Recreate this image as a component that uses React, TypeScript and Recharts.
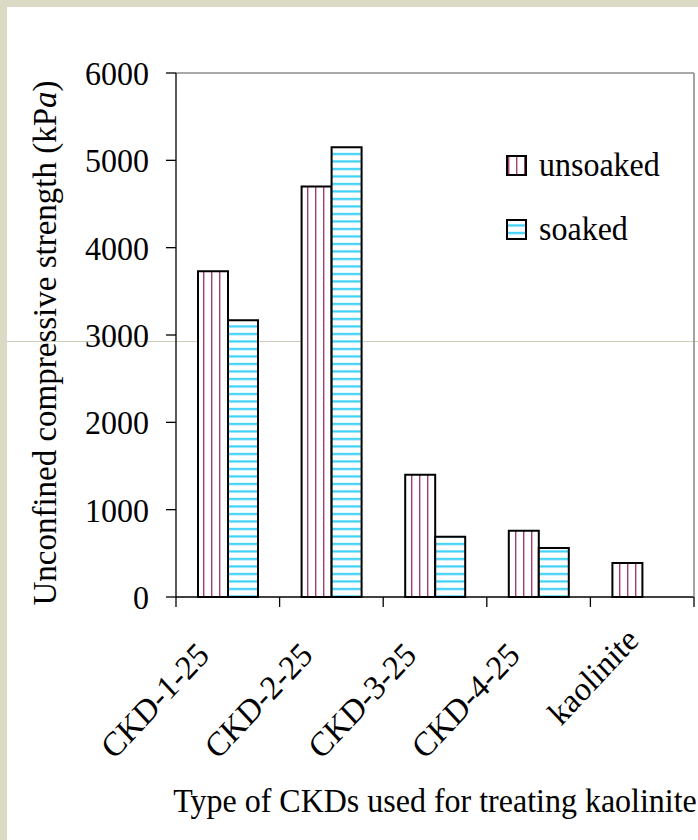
import { BarChart, Bar, XAxis, YAxis, Legend, Label } from "recharts";

const categories = ["CKD-1-25", "CKD-2-25", "CKD-3-25", "CKD-4-25", "kaolinite"];
const unsoaked = [3730, 4700, 1400, 760, 390];
const soaked: (number | null)[] = [3170, 5150, 690, 560, null];
const seriesOrder = ["unsoaked", "soaked"];
const yTicks = [0, 1000, 2000, 3000, 4000, 5000, 6000];
const frameTicks = [0, 1, 2, 3, 4, 5];

const data = categories.map((name, i) => ({
  name,
  unsoaked: unsoaked[i],
  soaked: soaked[i],
}));

const FONT = '"Liberation Serif", "Times New Roman", serif';
const FRAME = "#8c8c8c";
const TALL = 1.07; // glyphs are drawn a little taller than wide

const patternFor: Record<string, string> = {
  unsoaked: "url(#unsoaked-stripes)",
  soaked: "url(#soaked-stripes)",
};

const measureCtx =
  typeof document !== "undefined"
    ? document.createElement("canvas").getContext("2d")
    : null;

function textWidth(s: string) {
  if (!measureCtx) return 0;
  measureCtx.font = `32px ${FONT}`;
  return measureCtx.measureText(s).width;
}

const widestLabel = Math.max(...categories.map(textWidth));

// Category label rotated -45deg, plus tick marks on the band edges
function CategoryTick({ x, y, payload, index }: any) {
  const half = payload.offset ?? 0;
  const slide = (widestLabel - textWidth(String(payload.value))) * 0.85 * Math.SQRT1_2;
  const ax = x - 17 + slide;
  const ay = y + 60 - slide;
  const last = index === categories.length - 1;
  return (
    <g>
      <line x1={x - half} x2={x - half} y1={y} y2={y + 10} stroke="#000" strokeWidth={1.3} />
      {last && (
        <line x1={x + half} x2={x + half} y1={y} y2={y + 10} stroke="#000" strokeWidth={1.3} />
      )}
      <text
        transform={`translate(${ax}, ${ay}) scale(1, ${TALL}) rotate(-45)`}
        textAnchor="end"
        fontFamily={FONT}
        fontSize={32}
        fill="#000"
      >
        {payload.value}
      </text>
    </g>
  );
}

function ValueTick({ x, y, payload }: any) {
  return (
    <text
      transform={`translate(${x}, ${y + 12}) scale(1, ${TALL})`}
      textAnchor="end"
      fontFamily={FONT}
      fontSize={32}
      fill="#000"
    >
      {payload.value}
    </text>
  );
}

function YTitle({ viewBox }: any) {
  const cx = viewBox.x + 56;
  const cy = viewBox.y + viewBox.height / 2 + 8;
  return (
    <text
      x={cx}
      y={cy}
      transform={`rotate(-90, ${cx}, ${cy})`}
      textAnchor="middle"
      fontFamily={FONT}
      fontSize={33}
      fill="#000"
    >
      Unconfined compressive strength (kP<tspan fontStyle="italic">a</tspan>)
    </text>
  );
}

function XTitle({ viewBox }: any) {
  return (
    <text
      transform={`translate(${viewBox.x + viewBox.width / 2}, 812) scale(1, ${TALL})`}
      textAnchor="middle"
      fontFamily={FONT}
      fontSize={32}
      fill="#000"
    >
      Type of CKDs used for treating kaolinite
    </text>
  );
}

function LegendBox({ payload }: any) {
  const items = [...(payload ?? [])].sort(
    (a: any, b: any) =>
      seriesOrder.indexOf(a.dataKey) - seriesOrder.indexOf(b.dataKey)
  );
  return (
    <svg width={180} height={110} style={{ overflow: "visible" }}>
      {items.map((p: any, i: number) => (
        <g key={p.value} transform={`translate(0, ${i * 64})`}>
          <rect
            x={2}
            y={6}
            width={19}
            height={19}
            fill={patternFor[p.dataKey]}
            stroke="#000"
            strokeWidth={2}
          />
          <text
            transform={`translate(34, 26) scale(1, ${TALL})`}
            fontFamily={FONT}
            fontSize={32}
            fill="#000"
          >
            {p.value}
          </text>
        </g>
      ))}
    </svg>
  );
}

export default function App() {
  return (
    <div
      style={{
        position: "absolute",
        left: 0,
        top: 0,
        width: 698,
        height: 840,
        background: "#dbdac5",
        overflow: "hidden",
      }}
    >
      <div
        style={{
          position: "absolute",
          left: 7,
          top: 7,
          right: 0,
          bottom: 0,
          background: "#fff",
        }}
      />
      {/* slide rule line behind the chart */}
      <div
        style={{
          position: "absolute",
          left: 7,
          right: 0,
          top: 341,
          height: 1,
          background: "#cdcdbb",
        }}
      />
      <div style={{ position: "absolute", left: 0, top: 0 }}>
        <BarChart
          width={698}
          height={840}
          data={data}
          margin={{ top: 72, right: 3, left: 0, bottom: 0 }}
          barGap={0}
        >
          <defs>
            <pattern
              id="unsoaked-stripes"
              patternUnits="userSpaceOnUse"
              width={8}
              height={8}
            >
              <rect width={8} height={8} fill="#fff" />
              <rect x={3} width={1.2} height={8} fill="#a0426f" />
              <rect x={4.2} width={0.8} height={8} fill="#d7a3bd" />
            </pattern>
            <pattern
              id="soaked-stripes"
              patternUnits="userSpaceOnUse"
              width={7.5}
              height={7.5}
            >
              <rect width={7.5} height={7.5} fill="#fff" />
              <rect y={3} width={7.5} height={1.6} fill="#1ecbf7" />
              <rect y={4.6} width={7.5} height={0.9} fill="#9fe6fb" />
            </pattern>
          </defs>
          <XAxis
            dataKey="name"
            height={243}
            axisLine={{ stroke: "#000", strokeWidth: 1.3 }}
            tickLine={false}
            tickSize={0}
            tickMargin={0}
            interval={0}
            tick={<CategoryTick />}
          >
            <Label content={<XTitle />} />
          </XAxis>
          <XAxis
            xAxisId="top"
            orientation="top"
            type="number"
            domain={[0, 5]}
            ticks={frameTicks}
            allowDataOverflow
            height={1}
            tick={false}
            tickLine={false}
            axisLine={{ stroke: FRAME, strokeWidth: 1.6 }}
          />
          <YAxis
            domain={[0, 6000]}
            ticks={yTicks}
            interval={0}
            width={176}
            tickSize={10}
            tickMargin={17}
            axisLine={{ stroke: "#000", strokeWidth: 1.3 }}
            tickLine={{ stroke: "#000", strokeWidth: 1.3 }}
            tick={<ValueTick />}
          >
            <Label content={<YTitle />} />
          </YAxis>
          <YAxis
            yAxisId="right"
            orientation="right"
            domain={[0, 6000]}
            ticks={yTicks}
            allowDataOverflow
            width={1}
            tick={false}
            tickLine={false}
            axisLine={{ stroke: FRAME, strokeWidth: 1.6 }}
          />
          <Legend
            layout="vertical"
            align="center"
            verticalAlign="middle"
            wrapperStyle={{ left: 505, top: 150, width: 180 }}
            content={<LegendBox />}
          />
          <Bar
            dataKey="unsoaked"
            name="unsoaked"
            fill={patternFor.unsoaked}
            stroke="#000"
            strokeWidth={2}
            barSize={30}
            isAnimationActive={false}
          />
          <Bar
            dataKey="soaked"
            name="soaked"
            fill={patternFor.soaked}
            stroke="#000"
            strokeWidth={2}
            barSize={30}
            isAnimationActive={false}
          />
        </BarChart>
      </div>
    </div>
  );
}
